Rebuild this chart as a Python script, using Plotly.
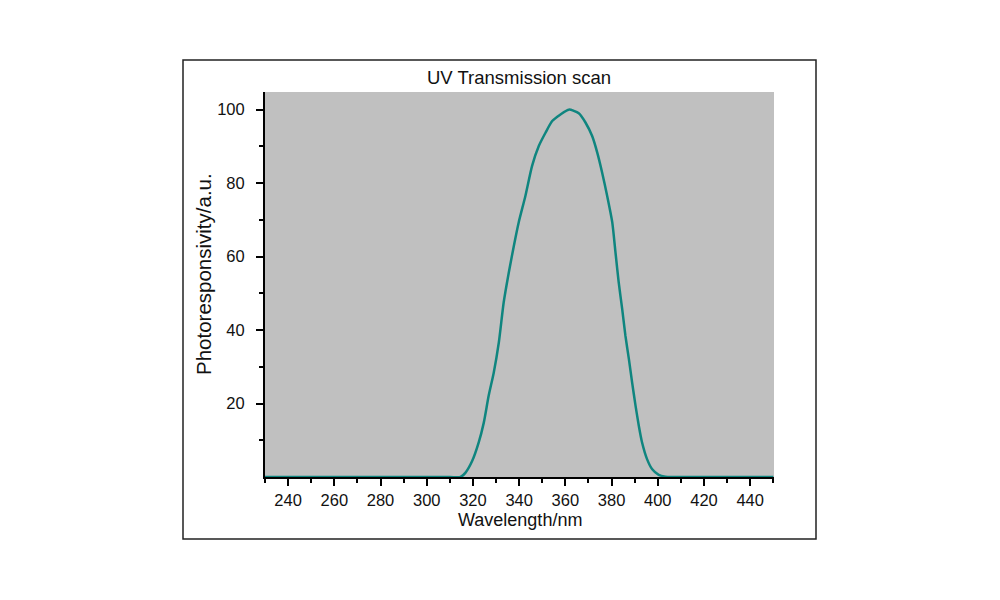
import plotly.graph_objects as go

# Data
wavelength_nm = [230, 260, 290, 310, 314.6, 316.8, 319.7, 322.5, 324.7, 326.8, 329.0, 331.2,
                 333.3, 335.5, 337.7, 339.8, 342.7, 345.6, 348.5, 351.4, 354.3, 357.9,
                 361.5, 365.8, 368.7, 371.6, 373.8, 375.9, 378.1, 380.3, 381.7, 383.1,
                 384.6, 386.0, 387.5, 388.9, 390.4, 391.8, 393.2, 395.4, 397.6, 400.4,
                 403.3, 406, 420, 435, 450]
photoresponsivity = [0, 0, 0, 0, 0, 1.2, 4.4, 9.4, 14.8, 22.1, 28.4, 36.6,
                     47.5, 55.6, 62.9, 69.3, 76.5, 84.7, 90.1, 93.7, 96.9, 98.7,
                     100.0, 99.0, 96.5, 92.8, 88.3, 82.9, 76.5, 69.3, 61.1, 52.9,
                     45.7, 38.4, 32.1, 25.7, 19.3, 13.9, 9.4, 4.8, 2.1, 0.6,
                     0.1, 0, 0, 0, 0]

x_major_ticks = [240, 260, 280, 300, 320, 340, 360, 380, 400, 420, 440]
x_minor_ticks = [230, 250, 270, 290, 310, 330, 350, 370, 390, 410, 430, 450]
y_major_ticks = [20, 40, 60, 80, 100]
y_minor_ticks = [10, 30, 50, 70, 90]

title_text = "UV Transmission scan"
x_title = "Wavelength/nm"
y_title = "Photoresponsivity/a.u."

FONT = "Liberation Sans, Arial, sans-serif"
L, R, T, B = 265, 226, 92, 123
W, H = 1000, 600
pw, ph = W - L - R, H - T - B

def px_x(px):
    return (px - L) / pw

def px_y(py):
    return (H - B - py) / ph

fig = go.Figure()
fig.add_trace(go.Scatter(
    x=wavelength_nm, y=photoresponsivity, mode="lines",
    line=dict(color="#0f857f", width=2.5, shape="spline", smoothing=0.6),
    hoverinfo="skip", showlegend=False,
))

fig.update_layout(
    width=W, height=H,
    margin=dict(l=L, r=R, t=T, b=B, pad=0),
    paper_bgcolor="white",
    plot_bgcolor="#c0c0c0",
    font=dict(family=FONT, color="#111111"),
    showlegend=False,
)

fig.update_xaxes(
    range=[230, 450.3], showgrid=False, zeroline=False,
    showline=True, linecolor="black", linewidth=2, mirror=False,
    ticks="outside", ticklen=7, tickwidth=1.5, tickcolor="black",
    tickmode="array", tickvals=x_major_ticks,
    tickfont=dict(size=16.5, family=FONT, color="#111111"),
    ticklabelstandoff=0,
    minor=dict(ticks="outside", ticklen=4, tickwidth=1.5, tickcolor="black",
               tickmode="array", tickvals=x_minor_ticks, showgrid=False),
    layer="below traces",
)
fig.update_yaxes(
    range=[0, 104.8], showgrid=False, zeroline=False,
    showline=True, linecolor="black", linewidth=2, mirror=False,
    ticks="outside", ticklen=7, tickwidth=1.5, tickcolor="black",
    tickmode="array", tickvals=y_major_ticks,
    tickfont=dict(size=16.5, family=FONT, color="#111111"),
    ticklabelstandoff=8,
    minor=dict(ticks="outside", ticklen=4, tickwidth=1.5, tickcolor="black",
               tickmode="array", tickvals=y_minor_ticks, showgrid=False),
    layer="below traces",
)

# outer frame
fig.add_shape(type="rect", xref="paper", yref="paper",
              x0=px_x(183), x1=px_x(816), y0=px_y(539), y1=px_y(60),
              line=dict(color="#222222", width=1.5), fillcolor="rgba(0,0,0,0)",
              layer="below")

fig.add_annotation(text=title_text, xref="paper", yref="paper",
                   x=px_x(519), y=px_y(77), xanchor="center", yanchor="middle",
                   showarrow=False, font=dict(size=18.5, family=FONT, color="#111111"))
fig.add_annotation(text=x_title, xref="paper", yref="paper",
                   x=px_x(519.5), y=px_y(520), xanchor="center", yanchor="middle",
                   showarrow=False, font=dict(size=18, family=FONT, color="#111111"))
fig.add_annotation(text=y_title, xref="paper", yref="paper",
                   x=px_x(203), y=px_y(274), xanchor="center", yanchor="middle",
                   textangle=-90,
                   showarrow=False, font=dict(size=20.5, family=FONT, color="#111111"))

fig.write_html("out.html")
